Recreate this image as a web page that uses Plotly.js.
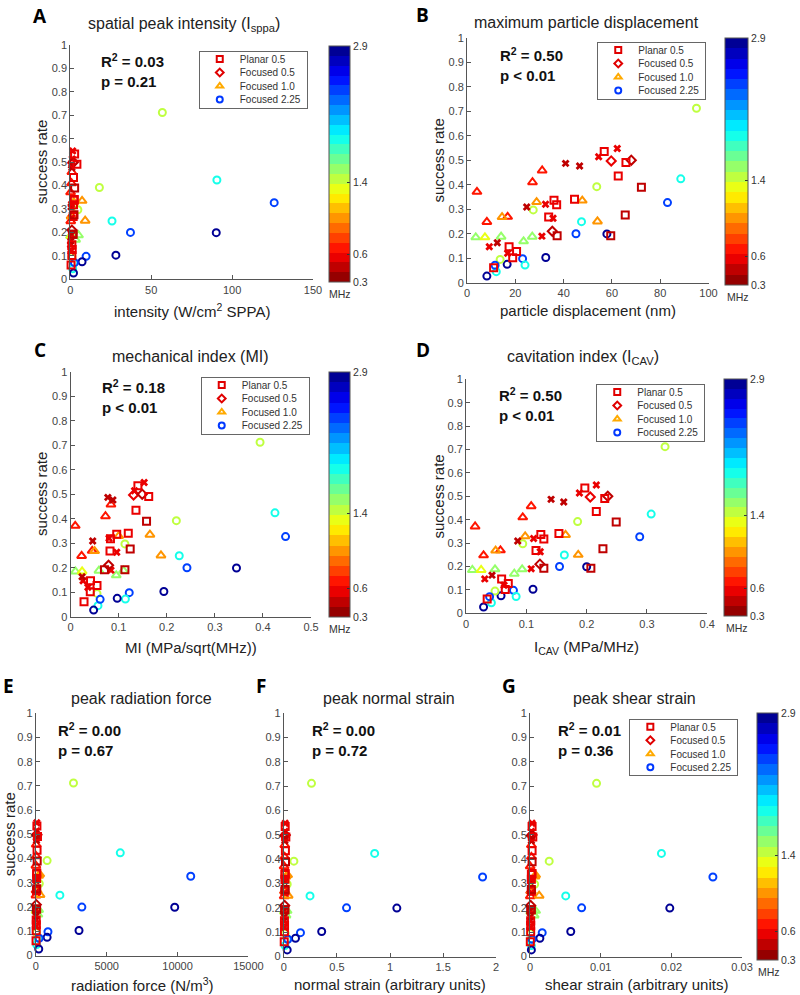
<!DOCTYPE html>
<html><head><meta charset="utf-8">
<script src="https://cdn.plot.ly/plotly-3.0.1.min.js"></script>
<style>html,body{margin:0;padding:0;background:#fff}#chart{width:800px;height:995px}</style>
</head><body><div id="chart"></div>
<script>
// ---------------- DATA ----------------
// One entry per experimental condition: group, drive frequency (MHz), success rate
const GROUP = [
  'sq','sq','sq','sq','sq','sq','sq','sq','sq','sq','sq','sq','sq','sq','sq',
  'dm','dm','dm',
  'x','x','x','x','x','x','x','x','x','x','x',
  'tr','tr','tr','tr','tr','tr','tr','tr','tr','tr','tr','tr','tr','tr',
  'ci','ci','ci','ci','ci','ci','ci','ci','ci','ci','ci','ci','ci','ci','ci','ci'
];
const FREQ = [
  0.6,0.6,0.6,0.5,0.6,0.6,0.6,0.6,0.45,0.45,0.45,0.6,0.6,0.6,0.6,
  0.6,0.45,0.45,
  0.6,0.6,0.45,0.45,0.45,0.6,0.6,0.6,0.6,0.45,0.6,
  0.7,0.7,0.7,0.7,0.7,1.0,1.0,1.0,1.0,1.5,1.35,1.5,1.5,1.5,
  1.45,1.9,2.4,1.45,1.45,1.9,2.4,2.85,2.85,2.4,1.9,2.85,1.45,1.9,2.4,2.85
];
const SUCCESS = [
  0.535,0.491,0.435,0.39,0.337,0.341,0.318,0.268,0.276,0.192,0.192,0.147,0.127,0.102,0.061,
  0.497,0.5,0.21,
  0.548,0.514,0.487,0.476,0.309,0.32,0.263,0.19,0.147,0.163,0.12,
  0.371,0.458,0.41,0.248,0.269,0.268,0.329,0.335,0.25,0.185,0.185,0.188,0.169,0.188,
  0.712,0.424,0.327,0.392,0.297,0.249,0.2,0.199,0.103,0.098,0.072,0.075,0.095,0.045,0.071,0.027
];
// A: spatial peak intensity (W/cm^2 SPPA)
const X_INTENSITY = [
  2.7,4.1,2.0,2.7,2.2,2.5,2.0,1.8,2.3,1.5,1.8,1.0,1.2,1.0,0.5,
  1.5,2.0,1.0,
  1.5,1.2,0.8,1.0,0.5,0.8,1.0,0.8,0.2,0.3,0.5,
  0.2,1.0,0.8,0.3,0.6,0.6,2.2,7.3,9.2,0.2,0.5,1.5,3.3,5.1,
  56.9,90.6,126,18,4.7,25.8,37.2,90.2,28.2,9.8,2.2,7.3,1.0,1.5,2.6,2.0
];
// B: maximum particle displacement (nm)
const X_DISPLACEMENT = [
  56.8,65.8,62.6,72.2,36,44.5,37.1,33.8,65.5,37.3,59.5,17.4,20.5,18.9,11,
  59.7,68,35.3,
  62.2,54.5,40.8,46.6,24.7,32.5,35.6,31,9.2,12.5,16.8,
  4.1,31.1,27.1,8.2,16.8,14.5,28.8,47.7,54,3.6,7.4,14.1,23.4,27,
  95,88.5,83,53.7,27.4,47.4,45.1,57.9,32.6,23,24,16.6,13.7,12.1,11.6,8.2
];
// C: mechanical index (MPa/sqrt(MHz))
const X_MI = [
  0.14,0.1625,0.136,0.158,0.096,0.12,0.083,0.082,0.124,0.0705,0.113,0.0415,0.055,0.041,0.028,
  0.131,0.149,0.079,
  0.153,0.133,0.0775,0.088,0.046,0.08,0.096,0.084,0.026,0.024,0.036,
  0.0097,0.084,0.0726,0.023,0.045,0.05,0.1,0.165,0.188,0.01,0.024,0.059,0.095,0.11,
  0.394,0.425,0.447,0.22,0.113,0.226,0.242,0.345,0.194,0.122,0.114,0.097,0.055,0.057,0.0615,0.048
];
// D: cavitation index (MPa/MHz)
const X_ICAV = [
  0.197,0.23,0.216,0.249,0.124,0.154,0.129,0.116,0.227,0.129,0.207,0.059,0.07,0.065,0.035,
  0.206,0.235,0.1225,
  0.216,0.188,0.141,0.162,0.0857,0.112,0.123,0.108,0.031,0.043,0.063,
  0.015,0.108,0.094,0.029,0.057,0.049,0.098,0.165,0.186,0.0104,0.025,0.048,0.08,0.093,
  0.33,0.307,0.288,0.185,0.094,0.163,0.155,0.2,0.111,0.0786,0.083,0.058,0.048,0.042,0.039,0.029
];
// E: peak radiation force (N/m^3)
const X_RADFORCE = [
  80,120,90,100,60,70,60,50,70,40,60,30,40,30,20,
  60,80,40,
  70,50,40,50,30,40,40,30,10,15,20,
  10,30,30,15,20,100,200,280,300,20,40,80,150,200,
  2660,5960,10930,800,250,1700,3250,9800,3050,860,150,800,50,60,240,210
];
// F: peak normal strain (arbitrary units)
const X_NSTRAIN = [
  0.012,0.018,0.014,0.015,0.01,0.012,0.01,0.009,0.011,0.007,0.009,0.005,0.006,0.005,0.003,
  0.01,0.013,0.007,
  0.012,0.01,0.008,0.009,0.006,0.007,0.008,0.006,0.003,0.004,0.005,
  0.002,0.008,0.007,0.003,0.005,0.01,0.02,0.035,0.04,0.004,0.008,0.015,0.02,0.03,
  0.26,0.855,1.872,0.094,0.031,0.246,0.59,1.064,0.356,0.156,0.03,0.109,0.012,0.01,0.037,0.031
];
// G: peak shear strain (arbitrary units)
const X_SSTRAIN = [
  0.0003,0.0004,0.0003,0.0003,0.0002,0.0003,0.0002,0.0002,0.0002,0.0001,0.0002,0.0001,0.0001,0.0001,0.00005,
  0.0002,0.0003,0.0001,
  0.0003,0.0002,0.0002,0.0002,0.0001,0.0002,0.0002,0.0001,0.00005,0.00005,0.0001,
  0.00003,0.0002,0.0002,0.00005,0.0001,0.0002,0.0007,0.0008,0.0013,0.0001,0.0002,0.0004,0.0006,0.0008,
  0.00942,0.0186,0.02588,0.00272,0.00066,0.00506,0.00731,0.01978,0.00577,0.00173,0.0002,0.0014,0.0001,0.0002,0.0003,0.0002
];
const R2_VALUES = ['0.03','0.50','0.18','0.50','0.00','0.00','0.01'];
const P_VALUES  = ['= 0.21','< 0.01','< 0.01','< 0.01','= 0.67','= 0.72','= 0.36'];
const LEGEND_LABELS = ['Planar 0.5','Focused 0.5','Focused 1.0','Focused 2.25'];
const Y_TICKS = [0,0.1,0.2,0.3,0.4,0.5,0.6,0.7,0.8,0.9,1];
const Y_TICKTEXT = ['0','0.1','0.2','0.3','0.4','0.5','0.6','0.7','0.8','0.9','1'];
const XT_A = [0,50,100,150];            const XL_A = ['0','50','100','150'];
const XT_B = [0,20,40,60,80,100];       const XL_B = ['0','20','40','60','80','100'];
const XT_C = [0,0.1,0.2,0.3,0.4,0.5];   const XL_C = ['0','0.1','0.2','0.3','0.4','0.5'];
const XT_D = [0,0.1,0.2,0.3,0.4];       const XL_D = ['0','0.1','0.2','0.3','0.4'];
const XT_E = [0,5000,10000,15000];      const XL_E = ['0','5000','10000','15000'];
const XT_F = [0,0.5,1,1.5,2];           const XL_F = ['0','0.5','1','1.5','2'];
const XT_G = [0,0.01,0.02,0.03];        const XL_G = ['0','0.01','0.02','0.03'];
const CB_TICKS = [0.3,0.6,1.4,2.9];     const CB_TICKTEXT = ['0.3','0.6','1.4','2.9'];
const FREQ_MIN = 0.3, FREQ_MAX = 2.9;

// ---------------- STYLE / LAYOUT ----------------
const W = 800, H = 995;
const px = v => v / W;          // x pixel -> paper
const py = v => 1 - v / H;      // y pixel -> paper
const FONT = 'Liberation Sans, Arial, Helvetica, sans-serif';

function jet(t){const c=v=>Math.max(0,Math.min(1,v));return [c(1.5-Math.abs(4*t-3)),c(1.5-Math.abs(4*t-2)),c(1.5-Math.abs(4*t-1))];}
const NB = 24, COLORSCALE = [];
for (let i=0;i<NB;i++){
  const rgb = jet(1-(i+0.5)/NB).map(v=>Math.round(v*255));
  const col = `rgb(${rgb.join(',')})`;
  COLORSCALE.push([i/NB,col]); COLORSCALE.push([(i+1)/NB,col]);
}

const SYMBOL = {sq:'square-open', dm:'diamond-open', x:'x', tr:'triangle-up-open', ci:'circle-open'};
const MSIZE  = {sq:7, dm:7, x:7, tr:8, ci:7};
const MLINE  = {sq:2, dm:2, x:0, tr:2, ci:2};
const DRAW_ORDER = ['ci','tr','x','dm','sq'];
const LEG_SYM = ['square-open','diamond-open','triangle-up-open','circle-open'];
const LEG_COL = ['#e00000','#e00000','#ffaa00','#0038ff'];

const panels = [
  {id:'A', xs:X_INTENSITY, xd:[70.7,315], yd:[45,279.3], xr:[0,150], xt:XT_A, xl:XL_A,
   title:'spatial peak intensity (I<sub>sppa</sub>)', tx:185, ty:25,
   xtitle:'intensity (W/cm<sup>2</sup> SPPA)', xty:310, ytx:41,
   letter:[40,0.5], stat:[100,49], legend:[200,51], cb:{x:331,t:21,top:46,bot:282}},
  {id:'B', xs:X_DISPLACEMENT, xd:[470,713], yd:[37.7,282.7], xr:[0,100], xt:XT_B, xl:XL_B,
   title:'maximum particle displacement', tx:590, ty:23,
   xtitle:'particle displacement (nm)', xty:310, ytx:441,
   letter:[425,0], stat:[501,43], legend:[601,42], cb:{x:730,t:23,top:38,bot:285}},
  {id:'C', xs:X_MI, xd:[71,313], yd:[371.7,616.7], xr:[0,0.5], xt:XT_C, xl:XL_C,
   title:'mechanical index (MI)', tx:192, ty:357,
   xtitle:'MI (MPa/sqrt(MHz))', xty:647, ytx:41,
   letter:[40,335.5], stat:[101,375], legend:[202,377], cb:{x:331,t:21,top:372,bot:617}},
  {id:'D', xs:X_ICAV, xd:[469,711.7], yd:[379.3,613.3], xr:[0,0.4], xt:XT_D, xl:XL_D,
   title:'cavitation index (I<sub>CAV</sub>)', tx:587, ty:358,
   xtitle:'I<sub>CAV</sub> (MPa/MHz)', xty:647, ytx:441,
   letter:[425.5,335.5], stat:[500,383], legend:[600,384], cb:{x:729,t:23,top:379,bot:616}},
  {id:'E', xs:X_RADFORCE, xd:[36,250], yd:[713.3,955.5], xr:[0,15000], xt:XT_E, xl:XL_E,
   title:'peak radiation force', tx:142, ty:698,
   xtitle:'radiation force (N/m<sup>3</sup>)', xty:984, ytx:9,
   letter:[8.5,670.5], stat:[56,718], legend:null, cb:null},
  {id:'F', xs:X_NSTRAIN, xd:[285.7,499.3], yd:[713.3,956.5], xr:[0,2], xt:XT_F, xl:XL_F,
   title:'peak normal strain', tx:391, ty:698,
   xtitle:'normal strain (arbitrary units)', xty:984, ytx:null,
   letter:[263,670.5], stat:[311.7,718], legend:null, cb:null},
  {id:'G', xs:X_SSTRAIN, xd:[533.3,746.7], yd:[713.3,956.5], xr:[0,0.03], xt:XT_G, xl:XL_G,
   title:'peak shear strain', tx:638, ty:698,
   xtitle:'shear strain (arbitrary units)', xty:984, ytx:null,
   letter:[512,670.5], stat:[559.3,718], legend:[633.3,718.7], cb:{x:762,t:21,top:713,bot:960}}
];

const data = [];
const layout = {
  width:W, height:H, margin:{l:0,r:0,t:0,b:0}, paper_bgcolor:'#fff', plot_bgcolor:'rgba(0,0,0,0)',
  font:{family:FONT, color:'#333'}, showlegend:true, annotations:[]
};

panels.forEach((p,k) => {
  const n = k+1, ax = n===1 ? '' : String(n);
  const xa = 'x'+ax, ya = 'y'+ax;
  const axCommon = {showgrid:false, zeroline:false, showline:true, linecolor:'#555', linewidth:1,
    ticks:'inside', ticklen:4, tickcolor:'#555', tickfont:{size:11,color:'#444',family:FONT},
    fixedrange:true, mirror:false};
  layout['xaxis'+ax] = Object.assign({}, axCommon, {domain:[px(p.xd[0]),px(p.xd[1])], range:p.xr,
    tickmode:'array', tickvals:p.xt, ticktext:p.xl, anchor:ya});
  layout['yaxis'+ax] = Object.assign({}, axCommon, {domain:[py(p.yd[1]),py(p.yd[0])], range:[0,1],
    tickmode:'array', tickvals:Y_TICKS, ticktext:Y_TICKTEXT, anchor:xa});

  DRAW_ORDER.forEach(g => {
    const idx = GROUP.map((v,i)=>v===g?i:-1).filter(i=>i>=0);
    const tr = {
      type:'scatter', mode:'markers', xaxis:xa, yaxis:ya, showlegend:false, cliponaxis:false,
      x: idx.map(i=>p.xs[i]), y: idx.map(i=>SUCCESS[i]),
      marker:{symbol:SYMBOL[g], size:MSIZE[g], color: idx.map(i=>FREQ[i]),
        cmin:FREQ_MIN, cmax:FREQ_MAX, colorscale:COLORSCALE, showscale:false,
        line:{width:MLINE[g]}}
    };
    if (g==='ci' && p.cb){
      tr.marker.showscale = true;
      tr.marker.colorbar = {x:px(p.cb.x), xanchor:'left', y:py(p.cb.top), yanchor:'top',
        len:(p.cb.bot-p.cb.top)/H, lenmode:'fraction', thickness:p.cb.t, thicknessmode:'pixels',
        xpad:0, ypad:0, outlinewidth:1, outlinecolor:'#555', tickmode:'array',
        tickvals:CB_TICKS, ticktext:CB_TICKTEXT, ticks:'inside', ticklen:3, tickcolor:'#333',
        tickfont:{size:10.5,color:'#333',family:FONT}};
    }
    data.push(tr);
  });

  if (p.legend){
    const lid = n===1 ? 'legend' : 'legend'+n;
    layout[lid] = {x:px(p.legend[0]), y:py(p.legend[1]), xanchor:'left', yanchor:'top',
      bgcolor:'#fff', bordercolor:'#666', borderwidth:1, font:{size:10,color:'#333',family:FONT},
      tracegroupgap:0};
    LEGEND_LABELS.forEach((lab,j) => {
      data.push({type:'scatter', mode:'markers', x:[null], y:[null], xaxis:xa, yaxis:ya,
        name:lab, legend:lid, showlegend:true,
        marker:{symbol:LEG_SYM[j], size:6, color:LEG_COL[j], line:{width:2, color:LEG_COL[j]}}});
    });
  }

  const A = layout.annotations;
  A.push({xref:'paper',yref:'paper',x:px(p.letter[0]),y:py(p.letter[1]),xanchor:'center',yanchor:'top',
    text:'<b>'+p.id+'</b>',showarrow:false,font:{size:19,color:'#000',family:'Open Sans, '+FONT}});
  A.push({xref:'paper',yref:'paper',x:px(p.tx),y:py(p.ty),xanchor:'center',yanchor:'middle',
    text:p.title,showarrow:false,font:{size:16,color:'#222',family:FONT}});
  A.push({xref:'paper',yref:'paper',x:px((p.xd[0]+p.xd[1])/2),y:py(p.xty),xanchor:'center',yanchor:'middle',
    text:p.xtitle,showarrow:false,font:{size:15,color:'#222',family:FONT}});
  if (p.ytx!==null){
    A.push({xref:'paper',yref:'paper',x:px(p.ytx),y:py((p.yd[0]+p.yd[1])/2),xanchor:'center',yanchor:'middle',
      text:'success rate',textangle:-90,showarrow:false,font:{size:15,color:'#222',family:FONT}});
  }
  A.push({xref:'paper',yref:'paper',x:px(p.stat[0]),y:py(p.stat[1]),xanchor:'left',yanchor:'top',align:'left',
    text:'<b>R<sup>2</sup> = '+R2_VALUES[k]+'<br>p '+P_VALUES[k]+'</b>',showarrow:false,
    font:{size:15,color:'#111',family:FONT}});
  if (p.cb){
    A.push({xref:'paper',yref:'paper',x:px(p.cb.x+p.cb.t/2+1),y:py(p.cb.bot+12),xanchor:'center',yanchor:'middle',
      text:'MHz',showarrow:false,font:{size:10.5,color:'#333',family:FONT}});
  }
});

Plotly.newPlot('chart', data, layout, {staticPlot:true, displayModeBar:false, responsive:false}).then(gd => {
  // compact legend rows (Plotly enforces a 19px minimum row height)
  const legends = gd.querySelectorAll('.infolayer > g');
  legends.forEach(lg => {
    const cls = lg.getAttribute('class') || '';
    if (!/^legend\d*$/.test(cls)) return;
    const items = lg.querySelectorAll('g.traces');
    if (!items.length) return;
    const step = 13.5, first = 8;
    items.forEach((it,i) => {
      const m = /translate\(\s*([-\d.]+)[\s,]+([-\d.]+)\s*\)/.exec(it.getAttribute('transform')||'');
      const x = m ? parseFloat(m[1]) : 0;
      it.setAttribute('transform', `translate(${x},${first + i*step})`);
    });
    const bg = lg.querySelector('rect.bg');
    if (bg) bg.setAttribute('height', first + (items.length-1)*step + 8);
  });
});
</script></body></html>
